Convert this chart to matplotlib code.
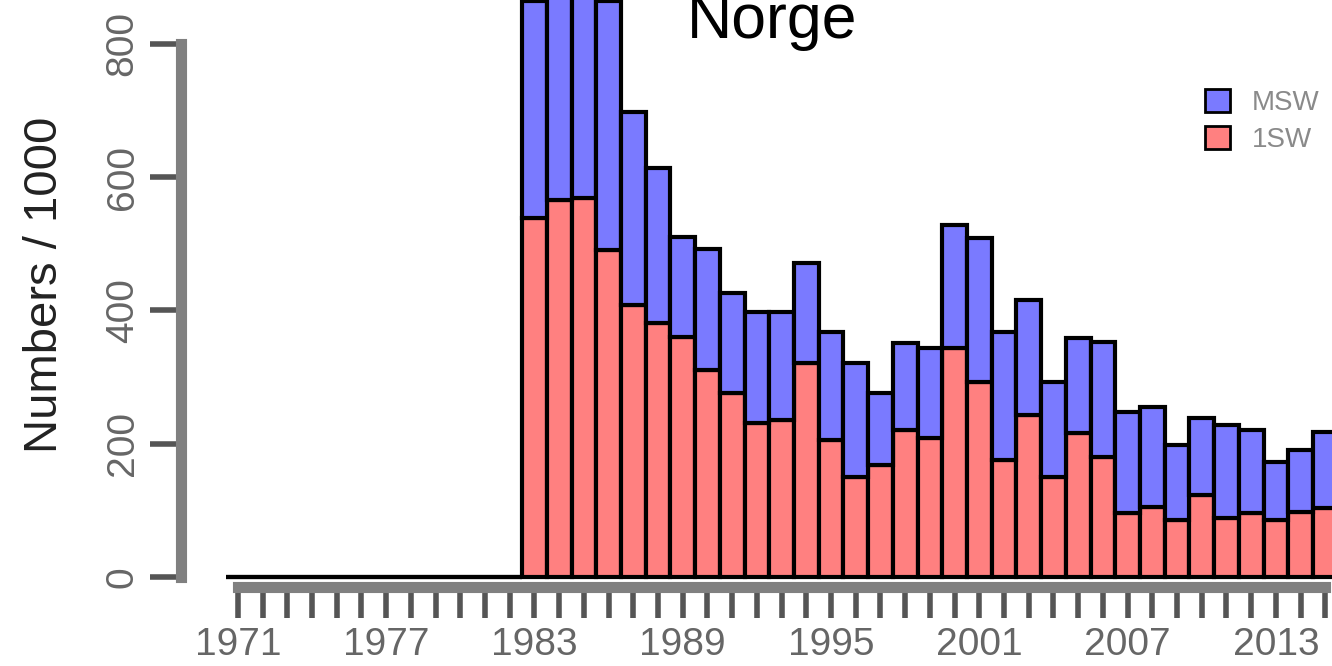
#------------------------------------------------------------------------------
# PACKAGES
#------------------------------------------------------------------------------
import numpy as np
import matplotlib
matplotlib.use('Agg')
import matplotlib.pyplot as plt
from matplotlib.patches import Patch

plt.rcParams['font.family'] = ['Liberation Sans', 'DejaVu Sans']

#------------------------------------------------------------------------------
# DATA (Numbers / 1000)
#------------------------------------------------------------------------------
years = list(range(1971, 2016))

# 1971-1982 have no catch
one_sw = [0]*12 + [539, 566, 569, 491, 408, 381, 360, 311, 276, 231, 236, 321,
                   206, 150, 168, 221, 209, 344, 293, 176, 243, 150, 216, 180,
                   96, 105, 86, 123, 89, 96, 86, 98, 104]
total = [0]*12 + [864, 950, 950, 864, 698, 614, 510, 492, 426, 398, 398, 471,
                  368, 321, 276, 351, 344, 528, 509, 368, 416, 293, 359, 353,
                  248, 255, 198, 239, 228, 221, 173, 191, 218]
msw = list(np.array(total) - np.array(one_sw))

label_years = [1971, 1977, 1983, 1989, 1995, 2001, 2007, 2013]
y_ticks = [0, 200, 400, 600, 800]

#------------------------------------------------------------------------------
# PLOT
#------------------------------------------------------------------------------
col_1sw = '#ff8080'
col_msw = '#7a7aff'
axis_col = '#808080'

fig = plt.figure(figsize=(13.32, 6.66), dpi=100)
ax = fig.add_axes([0.1359, 0.1186, 0.8641, 0.8814])

ax.bar(years, one_sw, width=1.0, color=col_1sw, edgecolor='black', linewidth=3)
ax.bar(years, msw, width=1.0, bottom=one_sw, color=col_msw,
       edgecolor='black', linewidth=3)

ax.set_xlim(1968.7, 2015.27)
ax.set_ylim(-15, 866)

# R style axes
for s in ['top', 'right']:
    ax.spines[s].set_visible(False)
ax.spines['left'].set_bounds(0, 800)
ax.spines['bottom'].set_bounds(1971, 2015)
for s in ['left', 'bottom']:
    ax.spines[s].set_color(axis_col)
    ax.spines[s].set_linewidth(8)

ax.set_xticks(years)
ax.set_xticklabels([str(y) if y in label_years else '' for y in years])
ax.set_yticks(y_ticks)
ax.set_yticklabels([str(v) for v in y_ticks], rotation=90, va='center')

ax.tick_params(axis='both', direction='out', length=22, width=4,
               color='#555555', labelsize=28, labelcolor='#666666', pad=7)

# Titles
fig.text(45/1332, 1 - 285/666, 'Numbers / 1000', rotation=90, fontsize=34,
         ha='center', va='center', color='#222222')
fig.text(772/1332, 1 - 38/666, 'Norge', fontsize=45, ha='center',
         va='baseline', color='black')

# Legend
handles = [Patch(facecolor=col_msw, edgecolor='black', linewidth=2, label='MSW'),
           Patch(facecolor=col_1sw, edgecolor='black', linewidth=2, label='1SW')]
fig.legend(handles=handles, loc='upper left', bbox_to_anchor=(1180/1332, 1 - 64/666),
           frameon=False, fontsize=20, handlelength=0.9, handleheight=0.9,
           handletextpad=0.8, labelspacing=0.35, labelcolor='#8a8a8a')

fig.savefig('out.png', dpi=100)
